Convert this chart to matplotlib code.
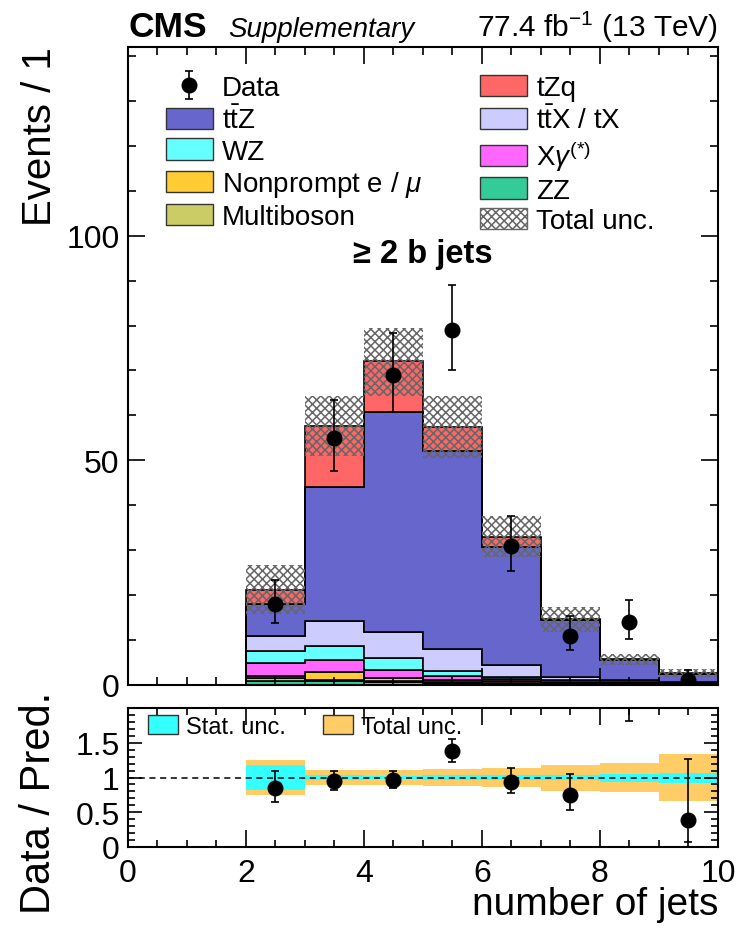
import numpy as np
import matplotlib
matplotlib.use('Agg')
import matplotlib.pyplot as plt
from matplotlib.patches import Patch
from matplotlib.ticker import MultipleLocator

plt.rcParams['font.family'] = ['Liberation Sans', 'DejaVu Sans']
plt.rcParams['mathtext.fontset'] = 'custom'
plt.rcParams['mathtext.rm'] = 'Liberation Sans'
plt.rcParams['mathtext.it'] = 'Liberation Sans:italic'
plt.rcParams['mathtext.bf'] = 'Liberation Sans:bold'
plt.rcParams['hatch.linewidth'] = 1.1

# bins of jet multiplicity 0..10
edges = np.arange(0, 11)
centers = edges[:-1] + 0.5

# stacked backgrounds, bottom to top
zz    = [0, 0, 0.85, 0.8, 0.6, 0.4, 0.3, 0.15, 0.1, 0.05]
multi = [0, 0, 0.6, 0.3, 0.3, 0.3, 0.2, 0.1, 0.1, 0.05]
nonp  = [0, 0, 0.5, 1.8, 0.7, 0.5, 0.3, 0.2, 0.1, 0.05]
xgam  = [0, 0, 2.85, 2.6, 1.7, 0.9, 0.5, 0.25, 0.2, 0.1]
wz    = [0, 0, 2.7, 3.1, 2.7, 1.1, 0.4, 0.3, 0.2, 0.1]
ttx   = [0, 0, 3.35, 5.6, 5.8, 4.7, 2.7, 0.8, 0.5, 0.3]
ttz   = [0, 0, 7.25, 29.9, 49.0, 44.2, 26.4, 12.6, 4.4, 1.8]
tzq   = [0, 0, 3.1, 13.6, 11.3, 5.3, 2.2, 0.2, 0.1, 0.15]

# observed data (bins 2..9)
data = np.array([18, 55, 69, 79, 31, 11, 14, 1])

# relative uncertainties on the prediction (bins 2..9)
tot_up  = np.array([0.255, 0.115, 0.103, 0.12, 0.14, 0.183, 0.215, 0.34])
tot_dn  = np.array([0.258, 0.115, 0.108, 0.12, 0.14, 0.19, 0.215, 0.34])
stat_up = np.array([0.175, 0.03, 0.025, 0.03, 0.035, 0.04, 0.05, 0.07])
stat_dn = np.array([0.18, 0.03, 0.025, 0.03, 0.035, 0.04, 0.07, 0.085])

layers = [
    (zz, '#33CC99'), (multi, '#CCCC66'), (nonp, '#FFCC33'), (xgam, '#FF66FF'),
    (wz, '#66FFFF'), (ttx, '#CCCCFF'), (ttz, '#6666CC'), (tzq, '#FF6666'),
]

# Poisson (Garwood) 68% intervals, Wilson-Hilferty approximation
def poisson_err(n):
    n = n.astype(float)
    lo = n * (1 - 1 / (9 * n) - 1 / (3 * np.sqrt(n))) ** 3
    m = n + 1
    hi = m * (1 - 1 / (9 * m) + 1 / (3 * np.sqrt(m))) ** 3
    return n - lo, hi - n

err_lo, err_hi = poisson_err(data)

fig = plt.figure(figsize=(7.36, 9.37), dpi=100)
ax = fig.add_axes([0.1739, 0.2679, 0.8016, 0.6809])
ax2 = fig.add_axes([0.1739, 0.095, 0.8016, 0.1483])

bottom = np.zeros(len(centers))
for vals, col in layers:
    top = bottom + np.array(vals)
    ax.stairs(top, edges, baseline=bottom, fill=True, facecolor=col,
              edgecolor='black', linewidth=1.2)
    bottom = top
total = bottom[2:]

ax.bar(centers[2:], total * (tot_up + tot_dn), bottom=total * (1 - tot_dn), width=1,
       fill=False, hatch='xxxx', edgecolor='#666666', linewidth=0)

eb = ax.errorbar(centers[2:], data, yerr=[err_lo, err_hi], fmt='o', color='black',
                 ms=10.5, elinewidth=1.2, capsize=3, capthick=1.2)

ax.set_xlim(0, 10)
ax.set_ylim(0, 142)
ax.tick_params(labelbottom=False)

handles = [eb, Patch(fc='#6666CC', ec='#333333'), Patch(fc='#66FFFF', ec='#333333'),
           Patch(fc='#FFCC33', ec='#333333'), Patch(fc='#CCCC66', ec='#333333'),
           Patch(fc='#FF6666', ec='#333333'), Patch(fc='#CCCCFF', ec='#333333'),
           Patch(fc='#FF66FF', ec='#333333'), Patch(fc='#33CC99', ec='#333333'),
           Patch(fc='white', ec='#666666', hatch='xxxx')]
labels = ['Data', r'$\mathrm{t\bar{t}Z}$', 'WZ', r'Nonprompt e / $\mu$', 'Multiboson',
          'tZq', r'$\mathrm{t\bar{t}X}$ / tX', r'X$\gamma^{(*)}$', 'ZZ', 'Total unc.']
ax.legend(handles, labels, ncol=2, loc='upper left', bbox_to_anchor=(0.0644, 0.956),
          frameon=False, fontsize=20, borderpad=0, borderaxespad=0,
          handlelength=1.69, handleheight=0.8, handletextpad=0.32,
          labelspacing=0.16, columnspacing=2.1)

ax.text(0.5, 0.676, '≥ 2 b jets', transform=ax.transAxes, ha='center', va='center',
        fontsize=23.5, fontweight='bold')

# ratio panel
ratio = data / total
ax2.bar(centers[2:], tot_up + tot_dn, bottom=1 - tot_dn, width=1, color='#FFCC66', linewidth=0)
ax2.bar(centers[2:], stat_up + stat_dn, bottom=1 - stat_dn, width=1, color='#33FFFF', linewidth=0)
ax2.axhline(1, color='black', ls=(0, (4, 3)), lw=1.1)
ax2.errorbar(centers[2:], ratio, yerr=[err_lo / total, err_hi / total], fmt='o',
             color='black', ms=10.5, elinewidth=1.2, capsize=3, capthick=1.2)
ax2.set_xlim(0, 10)
ax2.set_ylim(0, 2.0)
ax2.set_yticks([0, 0.5, 1, 1.5])
ax2.set_yticklabels(['0', '0.5', '1', '1.5'])
ax2.legend([Patch(fc='#33FFFF', ec='#333333'), Patch(fc='#FFCC66', ec='#333333')],
           ['Stat. unc.', 'Total unc.'], ncol=2, loc='upper left',
           bbox_to_anchor=(0.034, 0.95), frameon=False, fontsize=17, borderpad=0,
           borderaxespad=0, handlelength=1.27, handleheight=0.85, handletextpad=0.34,
           columnspacing=1.57)

for a in (ax, ax2):
    a.xaxis.set_major_locator(MultipleLocator(2))
    a.xaxis.set_minor_locator(MultipleLocator(0.5))
    a.tick_params(which='both', direction='in', top=True, right=True, width=1.2, labelsize=23)
    for s in a.spines.values():
        s.set_linewidth(1.5)
ax.yaxis.set_major_locator(MultipleLocator(50))
ax.yaxis.set_minor_locator(MultipleLocator(10))
ax2.yaxis.set_minor_locator(MultipleLocator(0.1))
ax.tick_params(which='major', length=12, pad=6)
ax.tick_params(which='minor', length=6)
ax2.tick_params(which='major', length=10, pad=6)
ax2.tick_params(which='minor', length=5)
ax2.tick_params(axis='x', which='major', length=12, pad=8)

fig.text(0.055, 0.950, 'Events / 1', rotation=90, ha='center', va='top', fontsize=29)
fig.text(0.053, 0.262, 'Data / Pred.', rotation=90, ha='center', va='top', fontsize=30)
fig.text(0.9755, 0.0235, 'number of jets', ha='right', va='baseline', fontsize=28)
fig.text(0.174, 0.9605, 'CMS', ha='left', va='baseline', fontsize=25.5, fontweight='bold')
fig.text(0.310, 0.9605, 'Supplementary', ha='left', va='baseline', fontsize=20, style='italic')
fig.text(0.9755, 0.9605, r'77.4 fb$^{-1}$ (13 TeV)', ha='right', va='baseline', fontsize=21.5)

fig.savefig('out.png', dpi=100)
